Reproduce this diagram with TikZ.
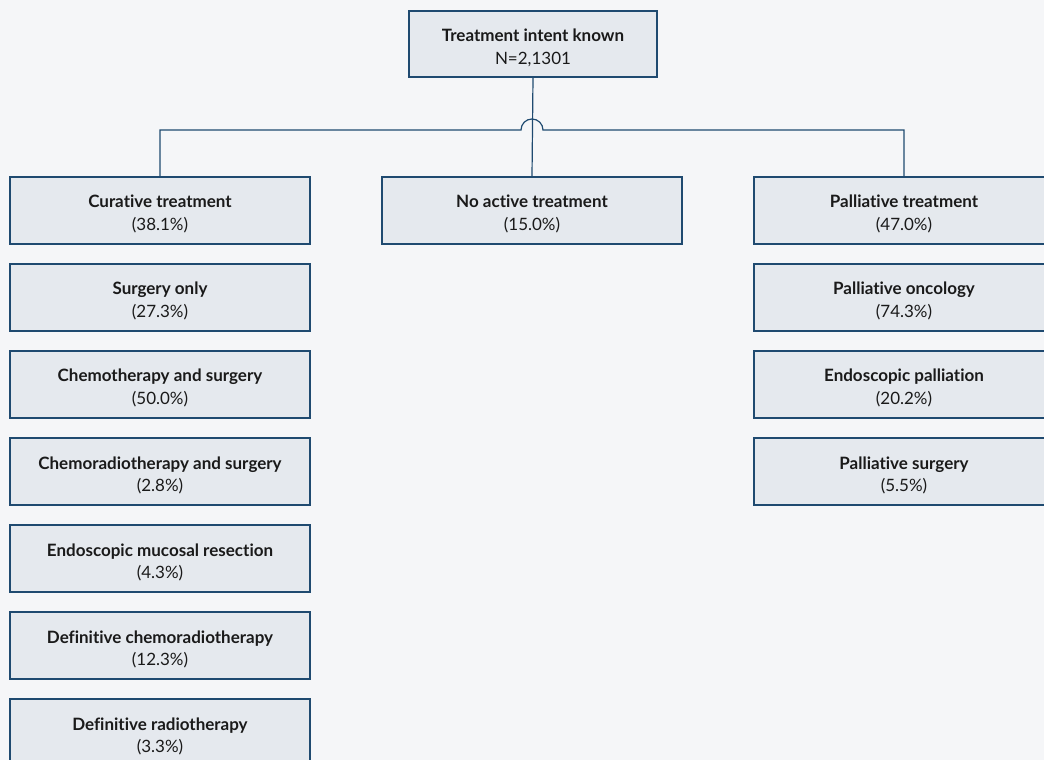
\documentclass[tikz,border=0pt]{standalone}
\usepackage{fontspec}
\setmainfont{Lato}[Ligatures={NoCommon}]
\usepackage{tikz}
\definecolor{boxline}{HTML}{1F4A70}
\definecolor{boxfill}{HTML}{E5E9EE}
\definecolor{pagebg}{HTML}{F5F6F8}
\definecolor{boxtext}{HTML}{1A1A1A}
\tikzstyle{stage}=[
        draw=boxline,
        fill=boxfill,
        line width=1.3pt,
        minimum width=300pt,
        minimum height=67pt,
        inner sep=0pt,
        align=center,
        text=boxtext,
        font=\fontsize{17}{22.5}\selectfont
]
\tikzstyle{link}=[
        draw=boxline,
        line width=1.2pt
]
\newcommand{\stagetext}[2]{\rule{0pt}{20pt}\textbf{#1}\\#2}

\begin{document}
\begin{tikzpicture}[x=1pt,y=1pt]
                        \useasboundingbox (0,0) rectangle (1044,760);
                        \clip (0,0) rectangle (1044,760);
                        \fill[pagebg] (0,0) rectangle (1044,760);

                        \node[stage,minimum width=248pt,minimum height=66pt] (known) at (533,716) {\stagetext{Treatment intent known}{N=2,1301}};

                        \node[stage] (curative) at (160,549.5) {\stagetext{Curative treatment}{(38.1\%)}};
                        \node[stage] (noactive) at (532,549.5) {\stagetext{No active treatment}{(15.0\%)}};
                        \node[stage] (palliative) at (904,549.5) {\stagetext{Palliative treatment}{(47.0\%)}};

                        % curative column
                        \node[stage] (surgery) at (160,462.5) {\stagetext{Surgery only}{(27.3\%)}};
                        \node[stage] (chemosurg) at (160,375.5) {\stagetext{Chemotherapy and surgery}{(50.0\%)}};
                        \node[stage] (crtsurg) at (160,288.5) {\stagetext{Chemoradiotherapy and surgery}{(2.8\%)}};
                        \node[stage] (emr) at (160,201.5) {\stagetext{Endoscopic mucosal resection}{(4.3\%)}};
                        \node[stage] (defcrt) at (160,114.5) {\stagetext{Definitive chemoradiotherapy}{(12.3\%)}};
                        \node[stage] (defrt) at (160,27.5) {\stagetext{Definitive radiotherapy}{(3.3\%)}};

                        % palliative column
                        \node[stage] (palonc) at (904,462.5) {\stagetext{Palliative oncology}{(74.3\%)}};
                        \node[stage] (endopal) at (904,375.5) {\stagetext{Endoscopic palliation}{(20.2\%)}};
                        \node[stage] (palsurg) at (904,288.5) {\stagetext{Palliative surgery}{(5.5\%)}};

                        \coordinate (hopleft) at (521,630);
                        \coordinate (hopright) at (543,630);

                        \draw[link] (known.south) -- (noactive.north);
                        \draw[link] (curative.north) |- (hopleft) arc (180:0:11) -- (hopright) -| (palliative.north);

                    \end{tikzpicture}
\end{document}
